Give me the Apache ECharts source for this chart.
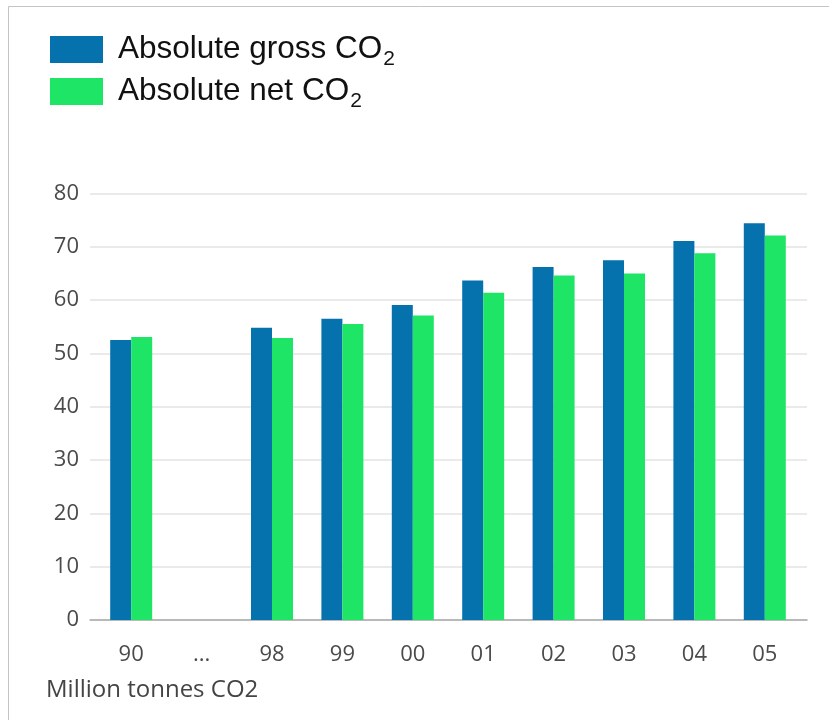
<!DOCTYPE html>
<html>
<head>
<meta charset="utf-8">
<script src="https://cdn.jsdelivr.net/npm/echarts@6/dist/echarts.min.js"></script>
<style>
  html, body { margin: 0; padding: 0; background: #fff; }
  #chart { width: 829px; height: 720px; }
</style>
</head>
<body>
<div id="chart"></div>
<script>
const years = ["90", "...", "98", "99", "00", "01", "02", "03", "04", "05"];
const grossCO2 = [52.5, null, 54.8, 56.5, 59.1, 63.7, 66.2, 67.5, 71.1, 74.4];
const netCO2 = [53.1, null, 52.9, 55.5, 57.1, 61.4, 64.6, 65.0, 68.8, 72.1];
const yTicks = { min: 0, max: 80, interval: 10 };

const blue = "#0571ad";
const green = "#1fe566";
const axisFont = "'Open Sans', sans-serif";
const legendFont = "'Liberation Sans', Arial, sans-serif";

const chart = echarts.init(document.getElementById("chart"), null, { renderer: "canvas" });

// subscript "2" is pushed down with top padding on its own token
const legendRich = {
  a: { fontFamily: legendFont, fontSize: 31.5, color: "#111", lineHeight: 27, padding: [0, 0, 0, 10] },
  s: { fontFamily: legendFont, fontSize: 21, color: "#111", lineHeight: 6, padding: [20, 0, 0, 1] },
};

chart.setOption({
  animation: false,
  backgroundColor: "#fff",
  graphic: [
    {
      type: "rect",
      shape: { x: 8.5, y: 6.5, width: 900, height: 800 },
      style: { fill: "none", stroke: "#c4c4c4", lineWidth: 1 },
      silent: true,
    },
  ],
  title: {
    text: "Million tonnes CO2",
    left: 46,
    top: 678,
    padding: 0,
    textStyle: { fontFamily: axisFont, fontSize: 24, fontWeight: "normal", color: "#444" },
  },
  legend: {
    orient: "vertical",
    left: 50,
    top: 29,
    padding: 0,
    itemWidth: 53,
    itemHeight: 27,
    itemGap: 1,
    icon: "rect",
    selectedMode: false,
    data: ["Absolute gross CO2", "Absolute net CO2"],
    formatter: (name) => "{a|" + name.slice(0, -1) + "}{s|2}",
    textStyle: { fontSize: 27, lineHeight: 27, rich: legendRich },
  },
  grid: [
    // background grid: y labels, split lines, baseline
    { left: 90, right: 22, top: 193.5, bottom: 100 },
    // bar grid: category spacing as in the original
    { left: 96, right: 29, top: 193.5, bottom: 100 },
  ],
  xAxis: [
    {
      gridIndex: 0,
      type: "value",
      min: 0,
      max: 1,
      axisLine: { show: true, onZero: false, lineStyle: { color: "#a9a9a9", width: 1.5 } },
      axisTick: { show: false },
      axisLabel: { show: false },
      splitLine: { show: false },
    },
    {
      gridIndex: 1,
      type: "category",
      data: years,
      axisLine: { show: false },
      axisTick: { show: false },
      axisLabel: { fontFamily: axisFont, fontSize: 22, color: "#4a4a4a", margin: 24 },
    },
  ],
  yAxis: [
    {
      gridIndex: 0,
      type: "value",
      min: yTicks.min,
      max: yTicks.max,
      interval: yTicks.interval,
      axisLine: { show: false },
      axisTick: { show: false },
      axisLabel: { fontFamily: axisFont, fontSize: 22, color: "#4a4a4a", margin: 11 },
      splitLine: { lineStyle: { color: "#e3e3e3", width: 1.5 } },
    },
    {
      gridIndex: 1,
      type: "value",
      min: yTicks.min,
      max: yTicks.max,
      interval: yTicks.interval,
      show: false,
      splitLine: { show: false },
    },
  ],
  series: [
    {
      name: "Absolute gross CO2",
      type: "bar",
      xAxisIndex: 1,
      yAxisIndex: 1,
      data: grossCO2,
      barWidth: 21,
      barGap: "0%",
      itemStyle: { color: blue },
    },
    {
      name: "Absolute net CO2",
      type: "bar",
      xAxisIndex: 1,
      yAxisIndex: 1,
      data: netCO2,
      barWidth: 21,
      barGap: "0%",
      itemStyle: { color: green },
    },
  ],
});
</script>
</body>
</html>
